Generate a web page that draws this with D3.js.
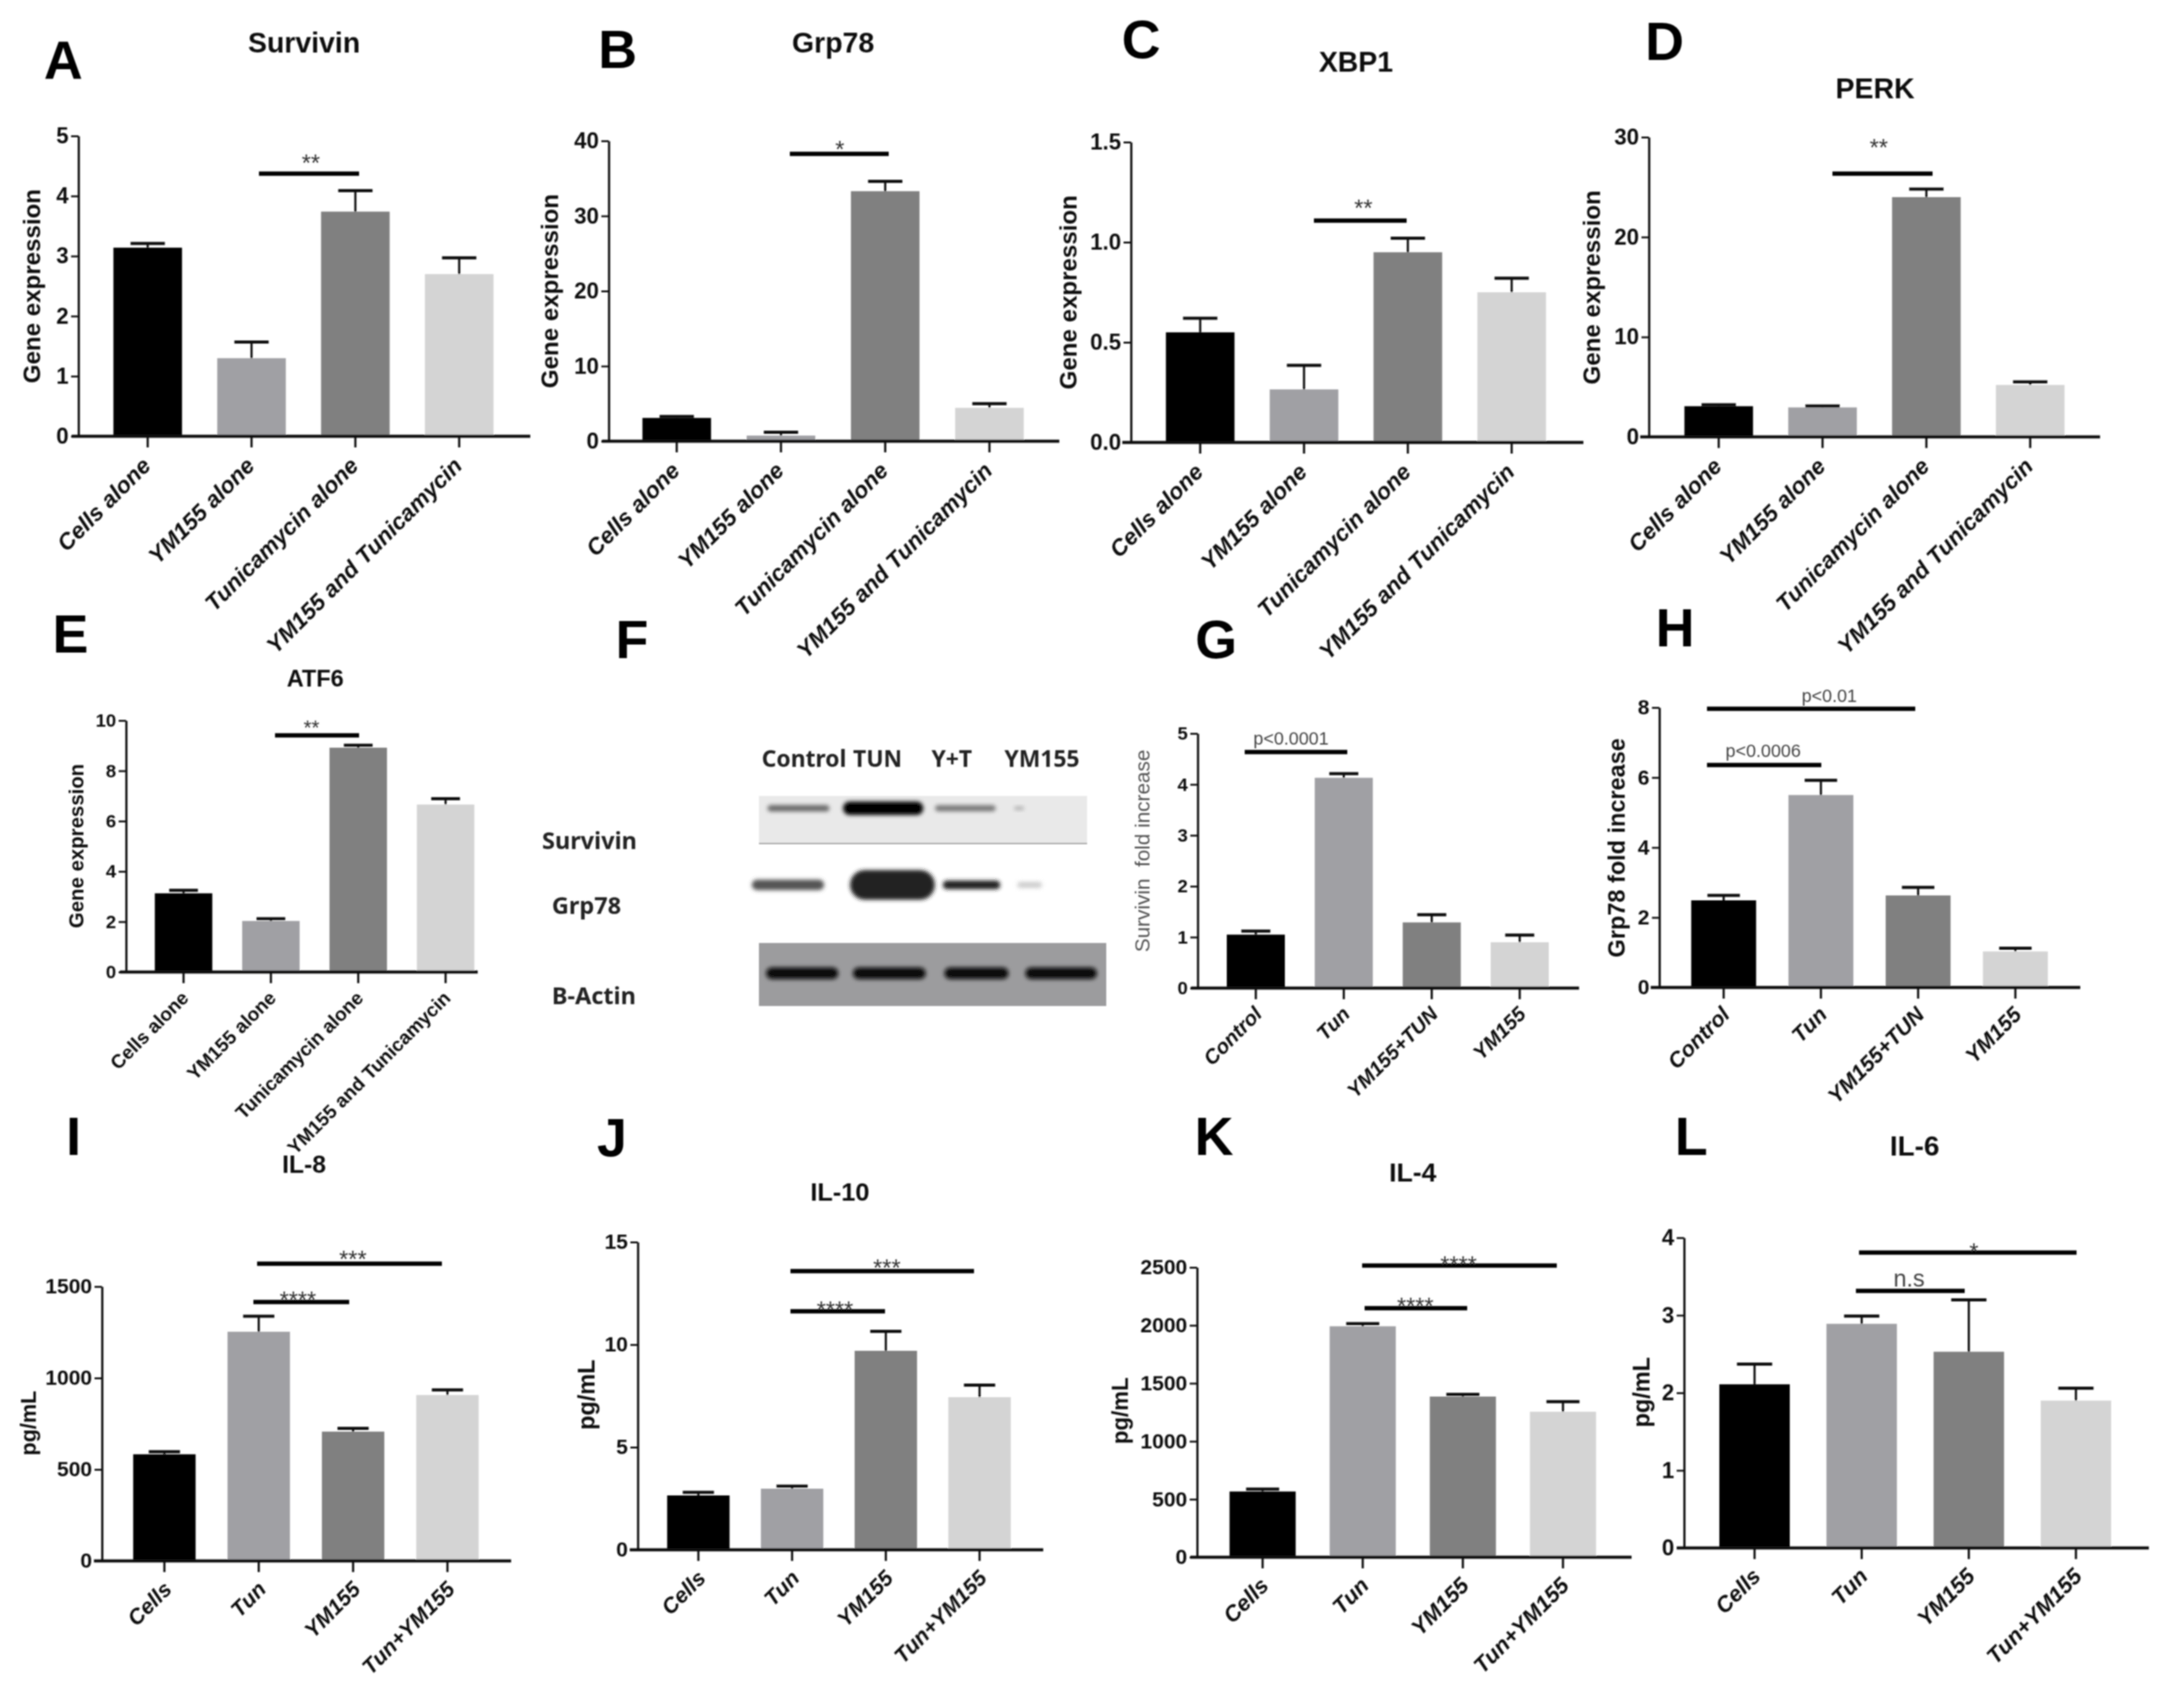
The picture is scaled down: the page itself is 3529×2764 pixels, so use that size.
<!DOCTYPE html>
<html>
<head>
<meta charset="utf-8">
<style>
  body { margin: 0; background: #fff; }
  svg { display: block; font-family: "Liberation Sans", Arial, sans-serif; }
</style>
<script src="https://d3js.org/d3.v7.min.js"></script>
</head>
<body>
<div id="chart"></div>
<script>
// categories
const geneGroups = ["Cells alone", "YM155 alone", "Tunicamycin alone", "YM155 and Tunicamycin"];
const foldGroups = ["Control", "Tun", "YM155+TUN", "YM155"];
const cytoGroups = ["Cells", "Tun", "YM155", "Tun+YM155"];

// bar heights and tops of the error bars
const survivinMean = [3.14, 1.30, 3.74, 2.70];
const survivinUpper = [3.21, 1.57, 4.09, 2.97];
const grp78Mean = [3.1, 0.75, 33.3, 4.45];
const grp78Upper = [3.3, 1.2, 34.6, 5.0];
const xbp1Mean = [0.55, 0.265, 0.95, 0.75];
const xbp1Upper = [0.62, 0.385, 1.02, 0.82];
const perkMean = [3.07, 2.95, 24.0, 5.2];
const perkUpper = [3.22, 3.1, 24.8, 5.5];
const atf6Mean = [3.13, 2.03, 8.92, 6.66];
const atf6Upper = [3.25, 2.12, 9.02, 6.89];
const survFoldMean = [1.05, 4.13, 1.29, 0.9];
const survFoldUpper = [1.12, 4.21, 1.44, 1.04];
const grpFoldMean = [2.49, 5.5, 2.63, 1.03];
const grpFoldUpper = [2.63, 5.92, 2.86, 1.12];
const il8Mean = [583, 1253, 707, 907];
const il8Upper = [597, 1338, 725, 935];
const il10Mean = [2.65, 2.98, 9.7, 7.44];
const il10Upper = [2.8, 3.1, 10.65, 8.03];
const il4Mean = [567, 1992, 1386, 1255];
const il4Upper = [588, 2015, 1404, 1342];
const il6Mean = [2.11, 2.89, 2.53, 1.90];
const il6Upper = [2.37, 2.99, 3.2, 2.06];

// y ticks
const survivinTicks = [0, 1, 2, 3, 4, 5];
const grp78Ticks = [0, 10, 20, 30, 40];
const xbp1Ticks = [0, 0.5, 1, 1.5];
const perkTicks = [0, 10, 20, 30];
const atf6Ticks = [0, 2, 4, 6, 8, 10];
const survFoldTicks = [0, 1, 2, 3, 4, 5];
const grpFoldTicks = [0, 2, 4, 6, 8];
const il8Ticks = [0, 500, 1000, 1500];
const il10Ticks = [0, 5, 10, 15];
const il4Ticks = [0, 500, 1000, 1500, 2000, 2500];
const il6Ticks = [0, 1, 2, 3, 4];

// western blot, relative band density per lane
const blotLanes = ["Control", "TUN", "Y+T", "YM155"];
const blotSurvivin = [0.35, 1, 0.3, 0.08];
const blotGrp78 = [0.55, 1, 0.6, 0.15];
const blotActin = [0.9, 0.88, 0.85, 0.92];

const barColors = ["#000000", "#a0a0a4", "#808080", "#d4d4d4"];

// page layout of every panel
const panels = [
  { letter: "A", lx: 71, ly: 127, title: "Survivin", tx: 492, ty: 69, ts: 46, cats: geneGroups, mean: survivinMean, upper: survivinUpper, ticks: survivinTicks,
    ax: 127, top: 220, base: 706, c0: 239, c3: 743, w: 111, bl: 116, br: 858, ylab: "Gene expression", yx: 51, yy: 463, ys: 39, tf: 36, xf: 37, xdx: 7, xdy: 50,
    sig: [{ x1: 419, x2: 581, y: 281, t: "**", cx: 503, cy: 256 }] },
  { letter: "B", lx: 968, ly: 110, title: "Grp78", tx: 1348, ty: 69, ts: 46, cats: geneGroups, mean: grp78Mean, upper: grp78Upper, ticks: grp78Ticks,
    ax: 985, top: 228, base: 714, c0: 1095, c3: 1601, w: 111, bl: 974, br: 1714, ylab: "Gene expression", yx: 889, yy: 471, ys: 39, tf: 36, xf: 37, xdx: 7, xdy: 50,
    sig: [{ x1: 1278, x2: 1438, y: 249, t: "*", cx: 1359, cy: 234 }] },
  { letter: "C", lx: 1815, ly: 94, title: "XBP1", tx: 2194, ty: 100, ts: 46, cats: geneGroups, mean: xbp1Mean, upper: xbp1Upper, ticks: xbp1Ticks, fmt: ".1f",
    ax: 1830, top: 230, base: 716, c0: 1942, c3: 2446, w: 111, bl: 1816, br: 2562, ylab: "Gene expression", yx: 1728, yy: 473, ys: 39, tf: 36, xf: 37, xdx: 7, xdy: 50,
    sig: [{ x1: 2126, x2: 2276, y: 357, t: "**", cx: 2206, cy: 329 }] },
  { letter: "D", lx: 2662, ly: 97, title: "PERK", tx: 3034, ty: 143, ts: 46, cats: geneGroups, mean: perkMean, upper: perkUpper, ticks: perkTicks,
    ax: 2668, top: 222, base: 707, c0: 2781, c3: 3285, w: 111, bl: 2654, br: 3398, ylab: "Gene expression", yx: 2575, yy: 465, ys: 39, tf: 36, xf: 37, xdx: 7, xdy: 50,
    sig: [{ x1: 2965, x2: 3127, y: 281, t: "**", cx: 3040, cy: 231 }] },
  { letter: "E", lx: 85, ly: 1056, title: "ATF6", tx: 510, ty: 1098, ts: 38, cats: geneGroups, mean: atf6Mean, upper: atf6Upper, ticks: atf6Ticks,
    ax: 204, top: 1166, base: 1573, c0: 297, c3: 721, w: 93, bl: 194, br: 773, ylab: "Gene expression", yx: 123, yy: 1369, ys: 33, tf: 30, xf: 31, xdx: 10, xdy: 44, upright: true,
    sig: [{ x1: 445, x2: 581, y: 1190, t: "**", cx: 504, cy: 1171, ss: 33 }] },
  { letter: "G", lx: 1934, ly: 1065, cats: foldGroups, mean: survFoldMean, upper: survFoldUpper, ticks: survFoldTicks,
    ax: 1938, top: 1187, base: 1599, c0: 2032, c3: 2459, w: 94, bl: 1927, br: 2555, ylab: "Survivin  fold increase", yx: 1848, yy: 1377, ys: 33.5, thinY: true, tf: 30, xf: 33, xdx: 12, xdy: 44,
    sig: [{ x1: 2014, x2: 2180, y: 1217, t: "p<0.0001", cx: 2089, cy: 1195, note: true }] },
  { letter: "H", lx: 2679, ly: 1046, cats: foldGroups, mean: grpFoldMean, upper: grpFoldUpper, ticks: grpFoldTicks,
    ax: 2685, top: 1145, base: 1598, c0: 2789, c3: 3261, w: 105, bl: 2671, br: 3366, ylab: "Grp78 fold increase", yx: 2616, yy: 1372, ys: 38, tf: 34, xf: 35, xdx: 12, xdy: 46,
    sig: [{ x1: 2762, x2: 2947, y: 1238, t: "p<0.0006", cx: 2853, cy: 1215, note: true },
          { x1: 2762, x2: 3099, y: 1147, t: "p<0.01", cx: 2960, cy: 1126, note: true }] },
  { letter: "I", lx: 107, ly: 1869, title: "IL-8", tx: 492, ty: 1884, ts: 40, cats: cytoGroups, mean: il8Mean, upper: il8Upper, ticks: il8Ticks,
    ax: 165, top: 2082, base: 2526, c0: 266, c3: 724, w: 101, bl: 152, br: 827, ylab: "pg/mL", yx: 45, yy: 2303, ys: 35, tf: 34, xf: 35, xdx: 14, xdy: 48,
    sig: [{ x1: 410, x2: 565, y: 2107, t: "****", cx: 482, cy: 2096 }, { x1: 416, x2: 715, y: 2045, t: "***", cx: 571, cy: 2030 }] },
  { letter: "J", lx: 966, ly: 1871, title: "IL-10", tx: 1359, ty: 1929, ts: 41, cats: cytoGroups, mean: il10Mean, upper: il10Upper, ticks: il10Ticks,
    ax: 1032, top: 2010, base: 2508, c0: 1130, c3: 1585, w: 101, bl: 1019, br: 1688, ylab: "pg/mL", yx: 949, yy: 2257, ys: 38, tf: 34, xf: 35, xdx: 14, xdy: 48,
    sig: [{ x1: 1279, x2: 1432, y: 2122, t: "****", cx: 1351, cy: 2112 }, { x1: 1279, x2: 1576, y: 2057, t: "***", cx: 1435, cy: 2044 }] },
  { letter: "K", lx: 1933, ly: 1869, title: "IL-4", tx: 2286, ty: 1897, ts: 43, cats: cytoGroups, mean: il4Mean, upper: il4Upper, ticks: il4Ticks,
    ax: 1937, top: 2051, base: 2520, c0: 2043, c3: 2529, w: 107, bl: 1926, br: 2640, ylab: "pg/mL", yx: 1812, yy: 2283, ys: 36, tf: 34, xf: 36, xdx: 12, xdy: 48,
    sig: [{ x1: 2208, x2: 2374, y: 2117, t: "****", cx: 2290, cy: 2106 }, { x1: 2204, x2: 2519, y: 2048, t: "****", cx: 2360, cy: 2039 }] },
  { letter: "L", lx: 2710, ly: 1869, title: "IL-6", tx: 3098, ty: 1854, ts: 45, cats: cytoGroups, mean: il6Mean, upper: il6Upper, ticks: il6Ticks,
    ax: 2725, top: 2003, base: 2505, c0: 2839, c3: 3359, w: 114, bl: 2713, br: 3477, ylab: "pg/mL", yx: 2656, yy: 2253, ys: 38, tf: 36, xf: 36, xdx: 12, xdy: 48,
    sig: [{ x1: 3003, x2: 3179, y: 2089, t: "n.s", cx: 3089, cy: 2069, note: true, ss: 38 }, { x1: 3008, x2: 3360, y: 2027, t: "*", cx: 3194, cy: 2018 }] }
];

const svg = d3.select("#chart").append("svg").attr("width", 3529).attr("height", 2764);
svg.append("rect").attr("width", 3529).attr("height", 2764).attr("fill", "#fff");

const defs = svg.append("defs");
defs.append("filter").attr("id", "soft")
  .attr("x", "-30%").attr("y", "-60%").attr("width", "160%").attr("height", "220%")
  .append("feGaussianBlur").attr("stdDeviation", 3);
// the source figure is a soft upscale, so everything gets a touch of blur
defs.append("filter").attr("id", "page").attr("filterUnits", "userSpaceOnUse")
  .attr("x", 0).attr("y", 0).attr("width", 3529).attr("height", 2764)
  .append("feGaussianBlur").attr("stdDeviation", 1);

const page = svg.append("g").attr("filter", "url(#page)");

function drawPanel(p) {
  const g = page.append("g").attr("class", "panel");
  const step = (p.c3 - p.c0) / 3;
  const pad = 1 - p.w / step;
  const x = d3.scaleBand().domain(p.cats)
    .range([p.c0 - step / 2, p.c3 + step / 2])
    .paddingInner(pad).paddingOuter(pad / 2);
  const y = d3.scaleLinear().domain(d3.extent(p.ticks)).range([p.base, p.top]);

  g.append("text").attr("x", p.lx).attr("y", p.ly)
    .attr("font-size", 87).attr("font-weight", 700).text(p.letter);

  if (p.title) {
    g.append("text").attr("x", p.tx).attr("y", p.ty)
      .attr("text-anchor", "middle").attr("dominant-baseline", "central")
      .attr("font-size", p.ts).attr("font-weight", 700).attr("fill", "#111").text(p.title);
  }

  // bars
  g.selectAll("rect.bar").data(p.mean).join("rect").attr("class", "bar")
    .attr("x", (d, i) => x(p.cats[i]))
    .attr("width", x.bandwidth())
    .attr("y", d => y(d))
    .attr("height", d => p.base - y(d))
    .attr("fill", (d, i) => barColors[i]);

  // error bars
  const cx = i => x(p.cats[i]) + x.bandwidth() / 2;
  const errs = g.selectAll("g.err").data(p.upper).join("g").attr("class", "err").attr("stroke", "#111");
  errs.append("line")
    .attr("x1", (d, i) => cx(i)).attr("x2", (d, i) => cx(i))
    .attr("y1", (d, i) => y(p.mean[i])).attr("y2", d => y(d))
    .attr("stroke-width", 3.5);
  errs.append("line")
    .attr("x1", (d, i) => cx(i) - p.w / 4).attr("x2", (d, i) => cx(i) + p.w / 4)
    .attr("y1", d => y(d)).attr("y2", d => y(d))
    .attr("stroke-width", 5);

  // y axis
  const yAxis = d3.axisLeft(y).tickValues(p.ticks).tickSize(12).tickPadding(4).tickSizeOuter(0)
    .tickFormat(d3.format(p.fmt || "d"));
  const ga = g.append("g").attr("transform", `translate(${p.ax},0)`).call(yAxis);
  ga.select(".domain").attr("stroke", "#111").attr("stroke-width", 3.5);
  ga.selectAll(".tick line").attr("stroke", "#111").attr("stroke-width", 3);
  ga.selectAll(".tick text").attr("font-family", "Liberation Sans").attr("font-size", p.tf)
    .attr("font-weight", 700).attr("fill", "#111");

  // x axis, the baseline runs past the bars on both sides
  const gx = g.append("g").attr("transform", `translate(0,${p.base})`)
    .call(d3.axisBottom(x).tickSize(18).tickSizeOuter(0));
  gx.select(".domain").remove();
  gx.selectAll(".tick line").attr("stroke", "#111").attr("stroke-width", 3.5);
  gx.selectAll(".tick text")
    .attr("font-family", "Liberation Sans").attr("font-size", p.xf).attr("font-weight", 700)
    .attr("font-style", p.upright ? "normal" : "italic").attr("fill", "#111")
    .attr("text-anchor", "end").attr("y", 0).attr("dy", 0)
    .attr("transform", `translate(${p.xdx},${p.xdy}) rotate(-45)`);
  g.append("line").attr("x1", p.bl).attr("x2", p.br).attr("y1", p.base).attr("y2", p.base)
    .attr("stroke", "#111").attr("stroke-width", 5);

  // y axis title
  g.append("text").attr("transform", `translate(${p.yx},${p.yy}) rotate(-90)`)
    .attr("text-anchor", "middle").attr("dominant-baseline", "central")
    .attr("font-size", p.ys).attr("font-weight", p.thinY ? 400 : 700)
    .attr("fill", p.thinY ? "#555" : "#111")
    .style("white-space", "pre").text(p.ylab);

  // significance bars
  p.sig.forEach(s => {
    g.append("line").attr("x1", s.x1).attr("x2", s.x2).attr("y1", s.y).attr("y2", s.y)
      .attr("stroke", "#000").attr("stroke-width", 7);
    const size = s.ss || (s.note ? 29 : 38);
    g.append("text").attr("x", s.cx)
      .attr("y", s.note ? s.cy + size * 0.34 : s.cy + size * 0.55)
      .attr("text-anchor", "middle").attr("font-size", size)
      .attr("fill", s.note ? "#444" : "#333").text(s.t);
  });
}

panels.forEach(drawPanel);

// panel F, western blot
const blot = page.append("g").attr("class", "blot");
const blotFont = "'Noto Sans', 'Open Sans', sans-serif";
blot.append("text").attr("x", 996).attr("y", 1065)
  .attr("font-size", 87).attr("font-weight", 700).text("F");

const laneLabelX = d3.scaleOrdinal(blotLanes, [1301, 1420, 1540, 1686]);
blot.selectAll("text.lane").data(blotLanes).join("text").attr("class", "lane")
  .attr("x", d => laneLabelX(d)).attr("y", 1241)
  .attr("text-anchor", "middle").attr("font-family", blotFont)
  .attr("font-size", 37).attr("font-weight", 700).attr("fill", "#222").text(d => d);

[["Survivin", 877, 1361], ["Grp78", 893, 1466], ["B-Actin", 893, 1612]].forEach(r => {
  blot.append("text").attr("x", r[1]).attr("y", r[2] + 13)
    .attr("font-family", blotFont).attr("font-size", 38).attr("font-weight", 700)
    .attr("fill", "#222").text(r[0]);
});

// strip backgrounds
blot.append("rect").attr("x", 1228).attr("y", 1288).attr("width", 531).attr("height", 76).attr("fill", "#e9e9e9");
blot.append("line").attr("x1", 1228).attr("x2", 1759).attr("y1", 1365).attr("y2", 1365).attr("stroke", "#999").attr("stroke-width", 2);
blot.append("rect").attr("x", 1228).attr("y", 1526).attr("width", 562).attr("height", 102).attr("fill", "#9c9c9e");

const blotRows = [
  { density: blotSurvivin, cy: 1308, x: d3.scaleOrdinal(blotLanes, [1292, 1429, 1562, 1649]),
    w: d3.scaleLinear([0.08, 0.3, 1], [16, 98, 130]), h: d3.scaleLinear([0.08, 1], [6, 22]), c: d3.scaleLinear([0.08, 0.35, 1], ["#b0b0b0", "#6a6a6a", "#000"]) },
  { density: blotGrp78, cy: 1432, x: d3.scaleOrdinal(blotLanes, [1275, 1444, 1572, 1666]),
    w: d3.scaleLinear([0.15, 0.55, 0.6, 1], [40, 117, 93, 137]), h: d3.scaleLinear([0.15, 0.55, 0.6, 1], [10, 17, 14, 48]), c: d3.scaleLinear([0.15, 0.55, 0.6, 1], ["#cfcfcf", "#555", "#222", "#222"]) },
  { density: blotActin, cy: 1575, x: d3.scaleOrdinal(blotLanes, [1298, 1439, 1580, 1717]),
    w: d3.scaleLinear([0.85, 0.88, 0.92], [104, 118, 116]), h: () => 19, c: () => "#0c0c0c" }
];
blotRows.forEach(row => {
  blot.selectAll(null).data(row.density).join("rect")
    .attr("x", (d, i) => row.x(blotLanes[i]) - row.w(d) / 2)
    .attr("y", d => row.cy - row.h(d) / 2)
    .attr("width", d => row.w(d))
    .attr("height", d => row.h(d))
    .attr("rx", d => row.h(d) / 2)
    .attr("fill", d => row.c(d))
    .attr("filter", "url(#soft)");
});
</script>
</body>
</html>
